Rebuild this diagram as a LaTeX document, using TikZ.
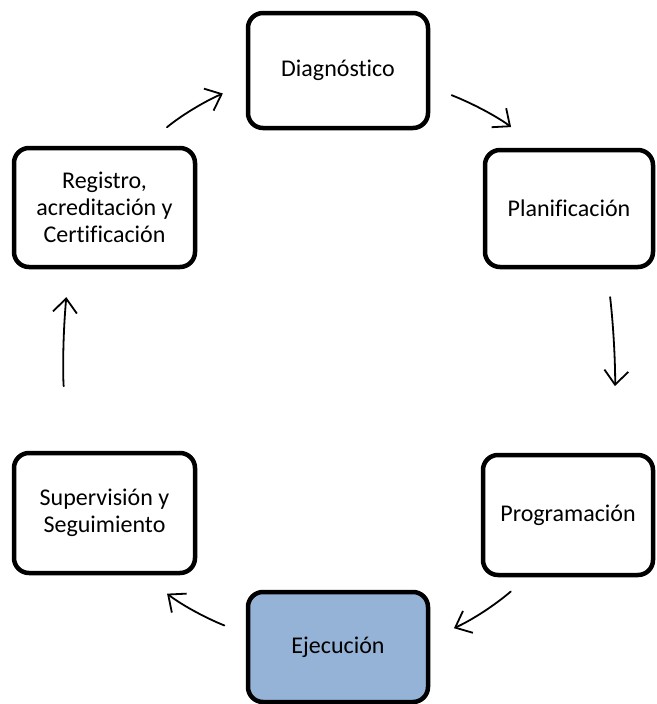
\documentclass[tikz,border=0pt]{standalone}
\usepackage{fontspec}
\setmainfont{Carlito}[Ligatures={NoCommon}]
\usetikzlibrary{arrows.meta}
\definecolor{ejecblue}{HTML}{95B3D7}

\begin{document}
\begin{tikzpicture}[x=1pt, y=1pt,
    stage/.style={draw, line width=4.5pt, rounded corners=15pt, align=center,
        inner sep=0pt, font=\fontsize{24}{27}\selectfont},
    arr/.style={line width=1.8pt, line cap=round,
        -{Straight Barb[length=14pt, width=24pt, line width=1.8pt]}}]
    \useasboundingbox (0,0) rectangle (656,-704);

    \node[stage, minimum width=180pt, minimum height=115pt] (diag) at (338,-70.5) {Diagnóstico};
    \node[stage, minimum width=168pt, minimum height=117pt] (plan) at (569,-208.5) {Planificación};
    \node[stage, minimum width=170pt, minimum height=120pt] (prog) at (568,-515) {Programación};
    \node[stage, fill=ejecblue, minimum width=180pt, minimum height=110pt] (ejec) at (338,-647) {Ejecución};
    \node[stage, minimum width=181pt, minimum height=120pt] (sup) at (104.5,-513) {Supervisión y\\Seguimiento};
    \node[stage, minimum width=181pt, minimum height=119pt] (reg) at (104.5,-207.5) {Registro,\\acreditación y\\Certificación};

    \draw[arr, shorten <=23pt, shorten >=34pt] (diag.-10) to[bend left=8] (plan.117);
    \draw[arr, shorten <=28pt, shorten >=67pt] (plan.-58) to[bend left=6] (prog.57);
    \draw[arr, shorten <=22pt, shorten >=26pt] (prog.-123) to[bend left=8] (ejec.5);
    \draw[arr, shorten <=23pt, shorten >=30pt] (ejec.172) to[bend left=8] (sup.-58);
    \draw[arr, shorten <=65pt, shorten >=28pt] (sup.118) to[bend left=6] (reg.-120);
    \draw[arr, shorten <=29pt, shorten >=25pt] (reg.57) to[bend left=8] (diag.188);
\end{tikzpicture}
\end{document}
